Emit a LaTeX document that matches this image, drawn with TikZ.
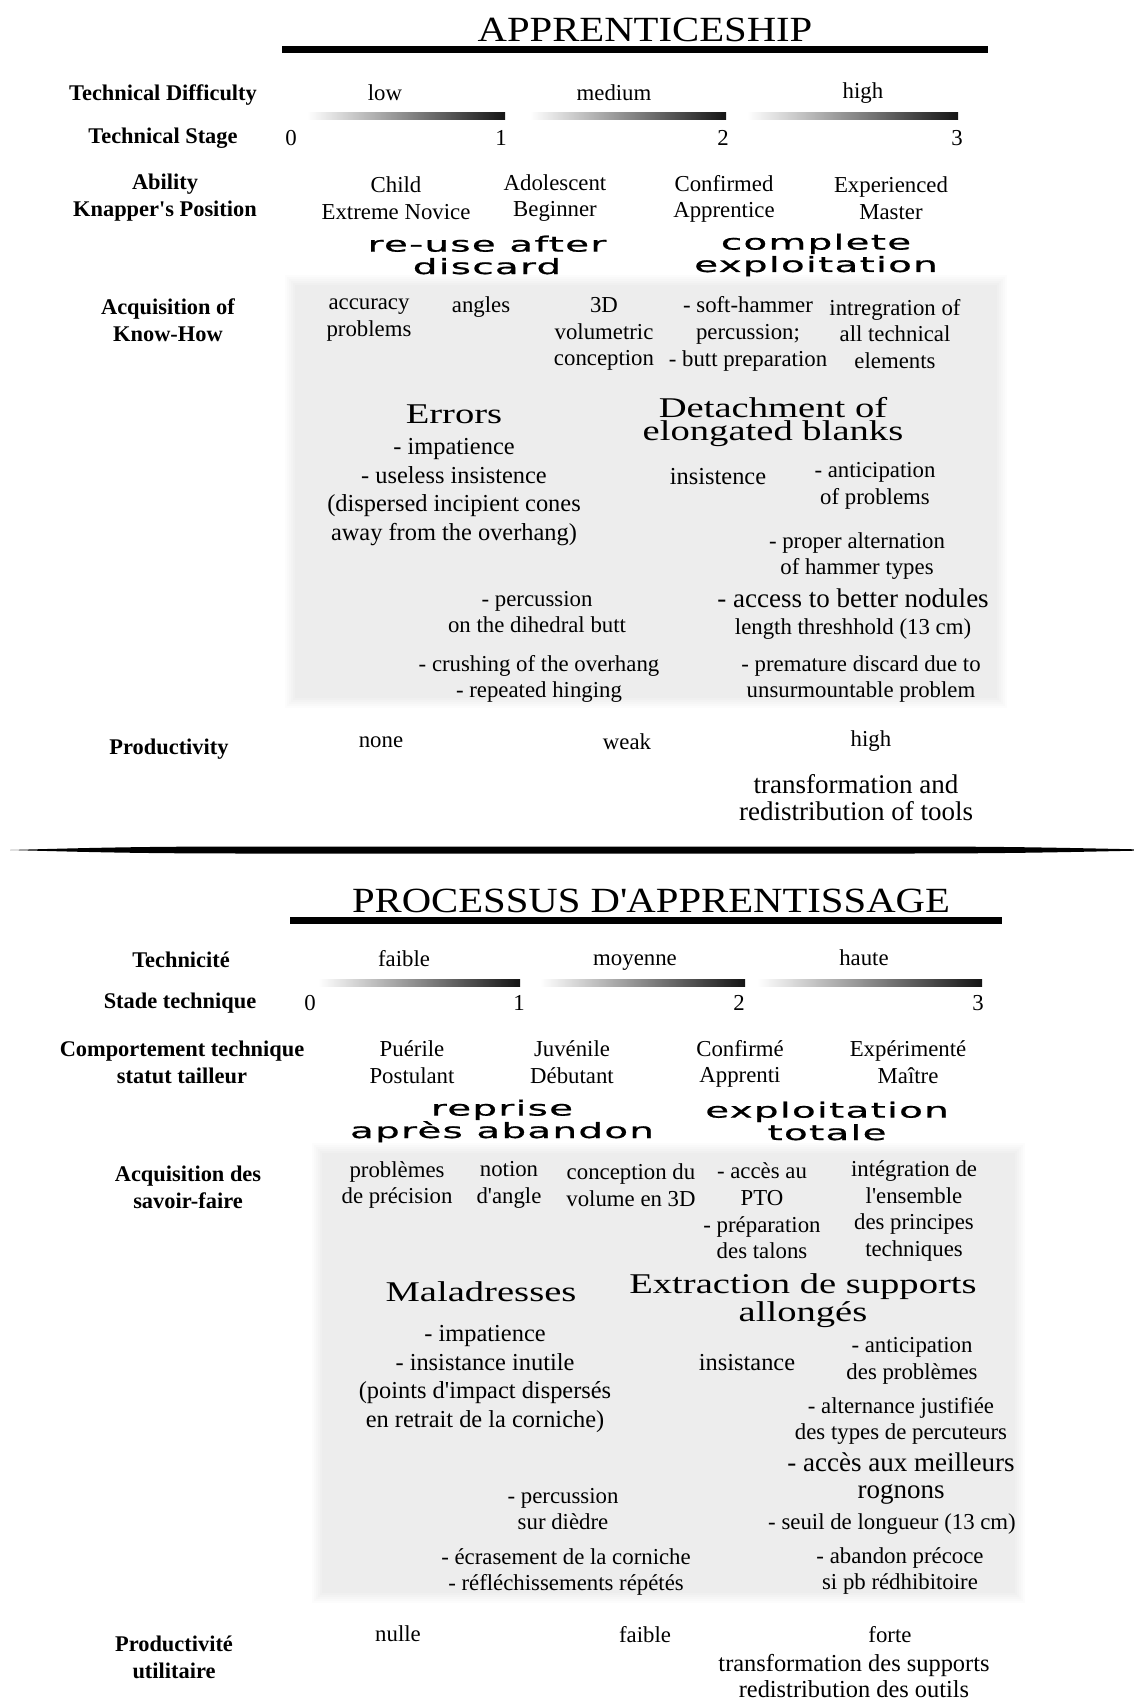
\documentclass[tikz,border=0pt]{standalone}
\usepackage{fontspec}
\setmainfont{Liberation Serif}
\newfontfamily\ttlfont[FakeStretch=1.15]{Liberation Serif}
\newfontfamily\headfont[FakeStretch=1.35]{Liberation Serif}
\newfontfamily\widefont[FakeStretch=1.85,LetterSpace=6,FakeBold=0.8]{DejaVu Sans}
\tikzset{
 lbl/.style={font=\fontsize{11.2}{13.5}\selectfont\bfseries, align=center, inner sep=0},
 txt/.style={font=\fontsize{11.4}{13.3}\selectfont, align=center, inner sep=0},
 mid/.style={font=\fontsize{12.2}{14.3}\selectfont, align=center, inner sep=0},
 big/.style={font=\fontsize{13.5}{13.5}\selectfont, align=center, inner sep=0},
 head/.style={font=\headfont\fontsize{14.3}{11.5}\selectfont, align=center, inner sep=0},
 wide/.style={font=\widefont\fontsize{10.5}{11.2}\selectfont, align=center, inner sep=0},
 ttl/.style={font=\ttlfont\fontsize{17.7}{20}\selectfont, inner sep=0},
 titlebar/.style={line width=3.5pt, black},
 gradbar/.style={left color=white, middle color=black!40, right color=black!92},
}
\newcommand{\softgray}[4]{%
  \foreach \k in {0,...,5}{\fill[black, opacity=0.012] (#1+\k*2,#2+\k*2) rectangle (#3-\k*2,#4-\k*2);}}
\begin{document}
\begin{tikzpicture}[x=0.5pt,y=-0.5pt]
\useasboundingbox (0,0) rectangle (1134,1701);
\fill[white] (0,0) rectangle (1134,1701);
% ---------- backgrounds
\softgray{285}{275}{1007}{708}
\softgray{312}{1143}{1025}{1603}
% ================= SECTION 1
\node[ttl] (ttl1) at (645,30) {APPRENTICESHIP};
\coordinate (b1a) at (282,50); \coordinate (b1b) at (988,50);
\draw[titlebar] (b1a) -- (b1b);
\node[lbl] (TD) at (163,95) {Technical Difficulty};
\node[txt] (low) at (385,93) {low};
\node[txt] (medium) at (614,93) {medium};
\node[txt] (high) at (863,93) {high};
\shade[gradbar] (307,113) rectangle (505,120);
\shade[gradbar] (530,113) rectangle (726,120);
\shade[gradbar] (747,113) rectangle (958,120);
\node[lbl] (TS) at (163,138) {Technical Stage};
\node[txt] (s0) at (291,138) {0};
\node[txt] (s1) at (501,138) {1};
\node[txt] (s2) at (723,138) {2};
\node[txt] (s3) at (957,138) {3};
\node[lbl] (AK) at (165,198) {Ability\\Knapper\textquotesingle s Position};
\node[txt] (p1) at (396,198) {Child\\Extreme Novice};
\node[txt] (p2) at (555,198) {Adolescent\\Beginner};
\node[txt] (p3) at (724,199) {Confirmed\\Apprentice};
\node[txt] (p4) at (891,198) {Experienced\\Master};
\node[wide] (w1) at (487,255) {re-use after\\discard};
\node[wide] (w2) at (816,255) {complete\\exploitation};
\node[lbl] (AQ) at (168,320) {Acquisition of\\Know-How};
\node[txt] (a1) at (369,320) {accuracy\\problems};
\node[txt] (a2) at (481,307) {angles};
\node[txt] (a3) at (604,334) {3D\\volumetric\\conception};
\node[txt] (a4) at (748,334) {- soft-hammer\\percussion;\\- butt preparation};
\node[txt] (a5) at (895,334) {intregration of\\all technical\\elements};
\node[head] (h1) at (454,414) {Errors};
\node[head] (h2) at (773,422) {Detachment of\\elongated blanks};
\node[mid] (e1) at (454,492) {- impatience\\- useless insistence\\(dispersed incipient cones\\away from the overhang)};
\node[mid] (i1) at (718,477) {insistence};
\node[txt] (an) at (875,486) {- anticipation\\of problems};
\node[txt] (al) at (857,556) {- proper alternation\\of hammer types};
\node[txt] (pc) at (537,612) {- percussion\\on the dihedral butt};
\node[big] (ac) at (853,598) {- access to better nodules};
\node[txt] (lt) at (853,629) {length threshhold (13 cm)};
\node[txt] (cr) at (539,679) {- crushing of the overhang\\- repeated hinging};
\node[txt] (pm) at (861,679) {- premature discard due to\\unsurmountable problem};
\node[lbl] (PR) at (169,749) {Productivity};
\node[txt] (none) at (381,742) {none};
\node[txt] (weak) at (627,742) {weak};
\node[txt] (highp) at (871,741) {high};
\node[big] (tr) at (856,798) {transformation and\\redistribution of tools};
% ---------- separator
\fill[black] (10,850) .. controls (100,847.5) and (150,846.5) .. (250,846.5) -- (900,846.5)
  .. controls (1000,846.5) and (1050,847.5) .. (1134,849.3) -- (1134,850.7)
  .. controls (1050,852.5) and (1000,853.5) .. (900,853.5) -- (250,853.5)
  .. controls (150,853.5) and (100,852.5) .. (10,850) -- cycle;
% ================= SECTION 2
\node[ttl] (ttl2) at (651,901) {PROCESSUS D\textquotesingle APPRENTISSAGE};
\coordinate (b2a) at (290,920); \coordinate (b2b) at (1002,920);
\draw[titlebar] (b2a) -- (b2b);
\node[lbl] (TE) at (181,960) {Technicité};
\node[txt] (faible) at (404,959) {faible};
\node[txt] (moyenne) at (635,963) {moyenne};
\node[txt] (haute) at (864,958) {haute};
\shade[gradbar] (318,979) rectangle (520,986);
\shade[gradbar] (540,979) rectangle (745,986);
\shade[gradbar] (757,979) rectangle (982,986);
\node[lbl] (ST) at (180,1003) {Stade technique};
\node[txt] (t0) at (310,1003) {0};
\node[txt] (t1) at (519,1003) {1};
\node[txt] (t2) at (739,1003) {2};
\node[txt] (t3) at (978,1003) {3};
\node[lbl] (CT) at (182,1062) {Comportement technique\\statut tailleur};
\node[txt] (q1) at (412,1062) {Puérile\\Postulant};
\node[txt] (q2) at (572,1062) {Juvénile\\Débutant};
\node[txt] (q3) at (740,1064) {Confirmé\\Apprenti};
\node[txt] (q4) at (908,1062) {Expérimenté\\Maître};
\node[wide] (w3) at (502,1121) {reprise\\après abandon};
\node[wide] (w4) at (827,1121) {exploitation\\totale};
\node[lbl] (AD) at (188,1187) {Acquisition des\\savoir-faire};
\node[txt] (c1) at (397,1185) {problèmes\\de précision};
\node[txt] (c2) at (509,1185) {notion\\d\textquotesingle angle};
\node[txt] (c3) at (631,1185) {conception du\\volume en 3D};
\node[txt] (c4) at (762,1211) {- accès au\\PTO\\- préparation\\des talons};
\node[txt] (c5) at (914,1211) {intégration de\\l\textquotesingle ensemble\\des principes\\techniques};
\node[head] (h3) at (481,1292) {Maladresses};
\node[head] (h4) at (803,1301) {Extraction de supports\\allongés};
\node[mid] (m1) at (485,1379) {- impatience\\- insistance inutile\\(points d\textquotesingle impact dispersés\\en retrait de la corniche)};
\node[mid] (i2) at (747,1363) {insistance};
\node[txt] (an2) at (912,1361) {- anticipation\\des problèmes};
\node[txt] (al2) at (901,1421) {- alternance justifiée\\des types de percuteurs};
\node[big] (ac2) at (901,1479) {- accès aux meilleurs\\rognons};
\node[txt] (pc2) at (563,1509) {- percussion\\sur dièdre};
\node[txt] (sl) at (892,1524) {- seuil de longueur (13 cm)};
\node[txt] (ec) at (566,1572) {- écrasement de la corniche\\- réfléchissements répétés};
\node[txt] (ab) at (900,1571) {- abandon précoce\\si pb rédhibitoire};
\node[lbl] (PU) at (174,1657) {Productivité\\utilitaire};
\node[txt] (nulle) at (398,1634) {nulle};
\node[txt] (faible2) at (645,1635) {faible};
\node[txt] (forte) at (890,1635) {forte};
\node[mid,font=\fontsize{12.2}{13}\selectfont] (tr2) at (854,1676) {transformation des supports\\redistribution des outils};
\end{tikzpicture}
\end{document}
